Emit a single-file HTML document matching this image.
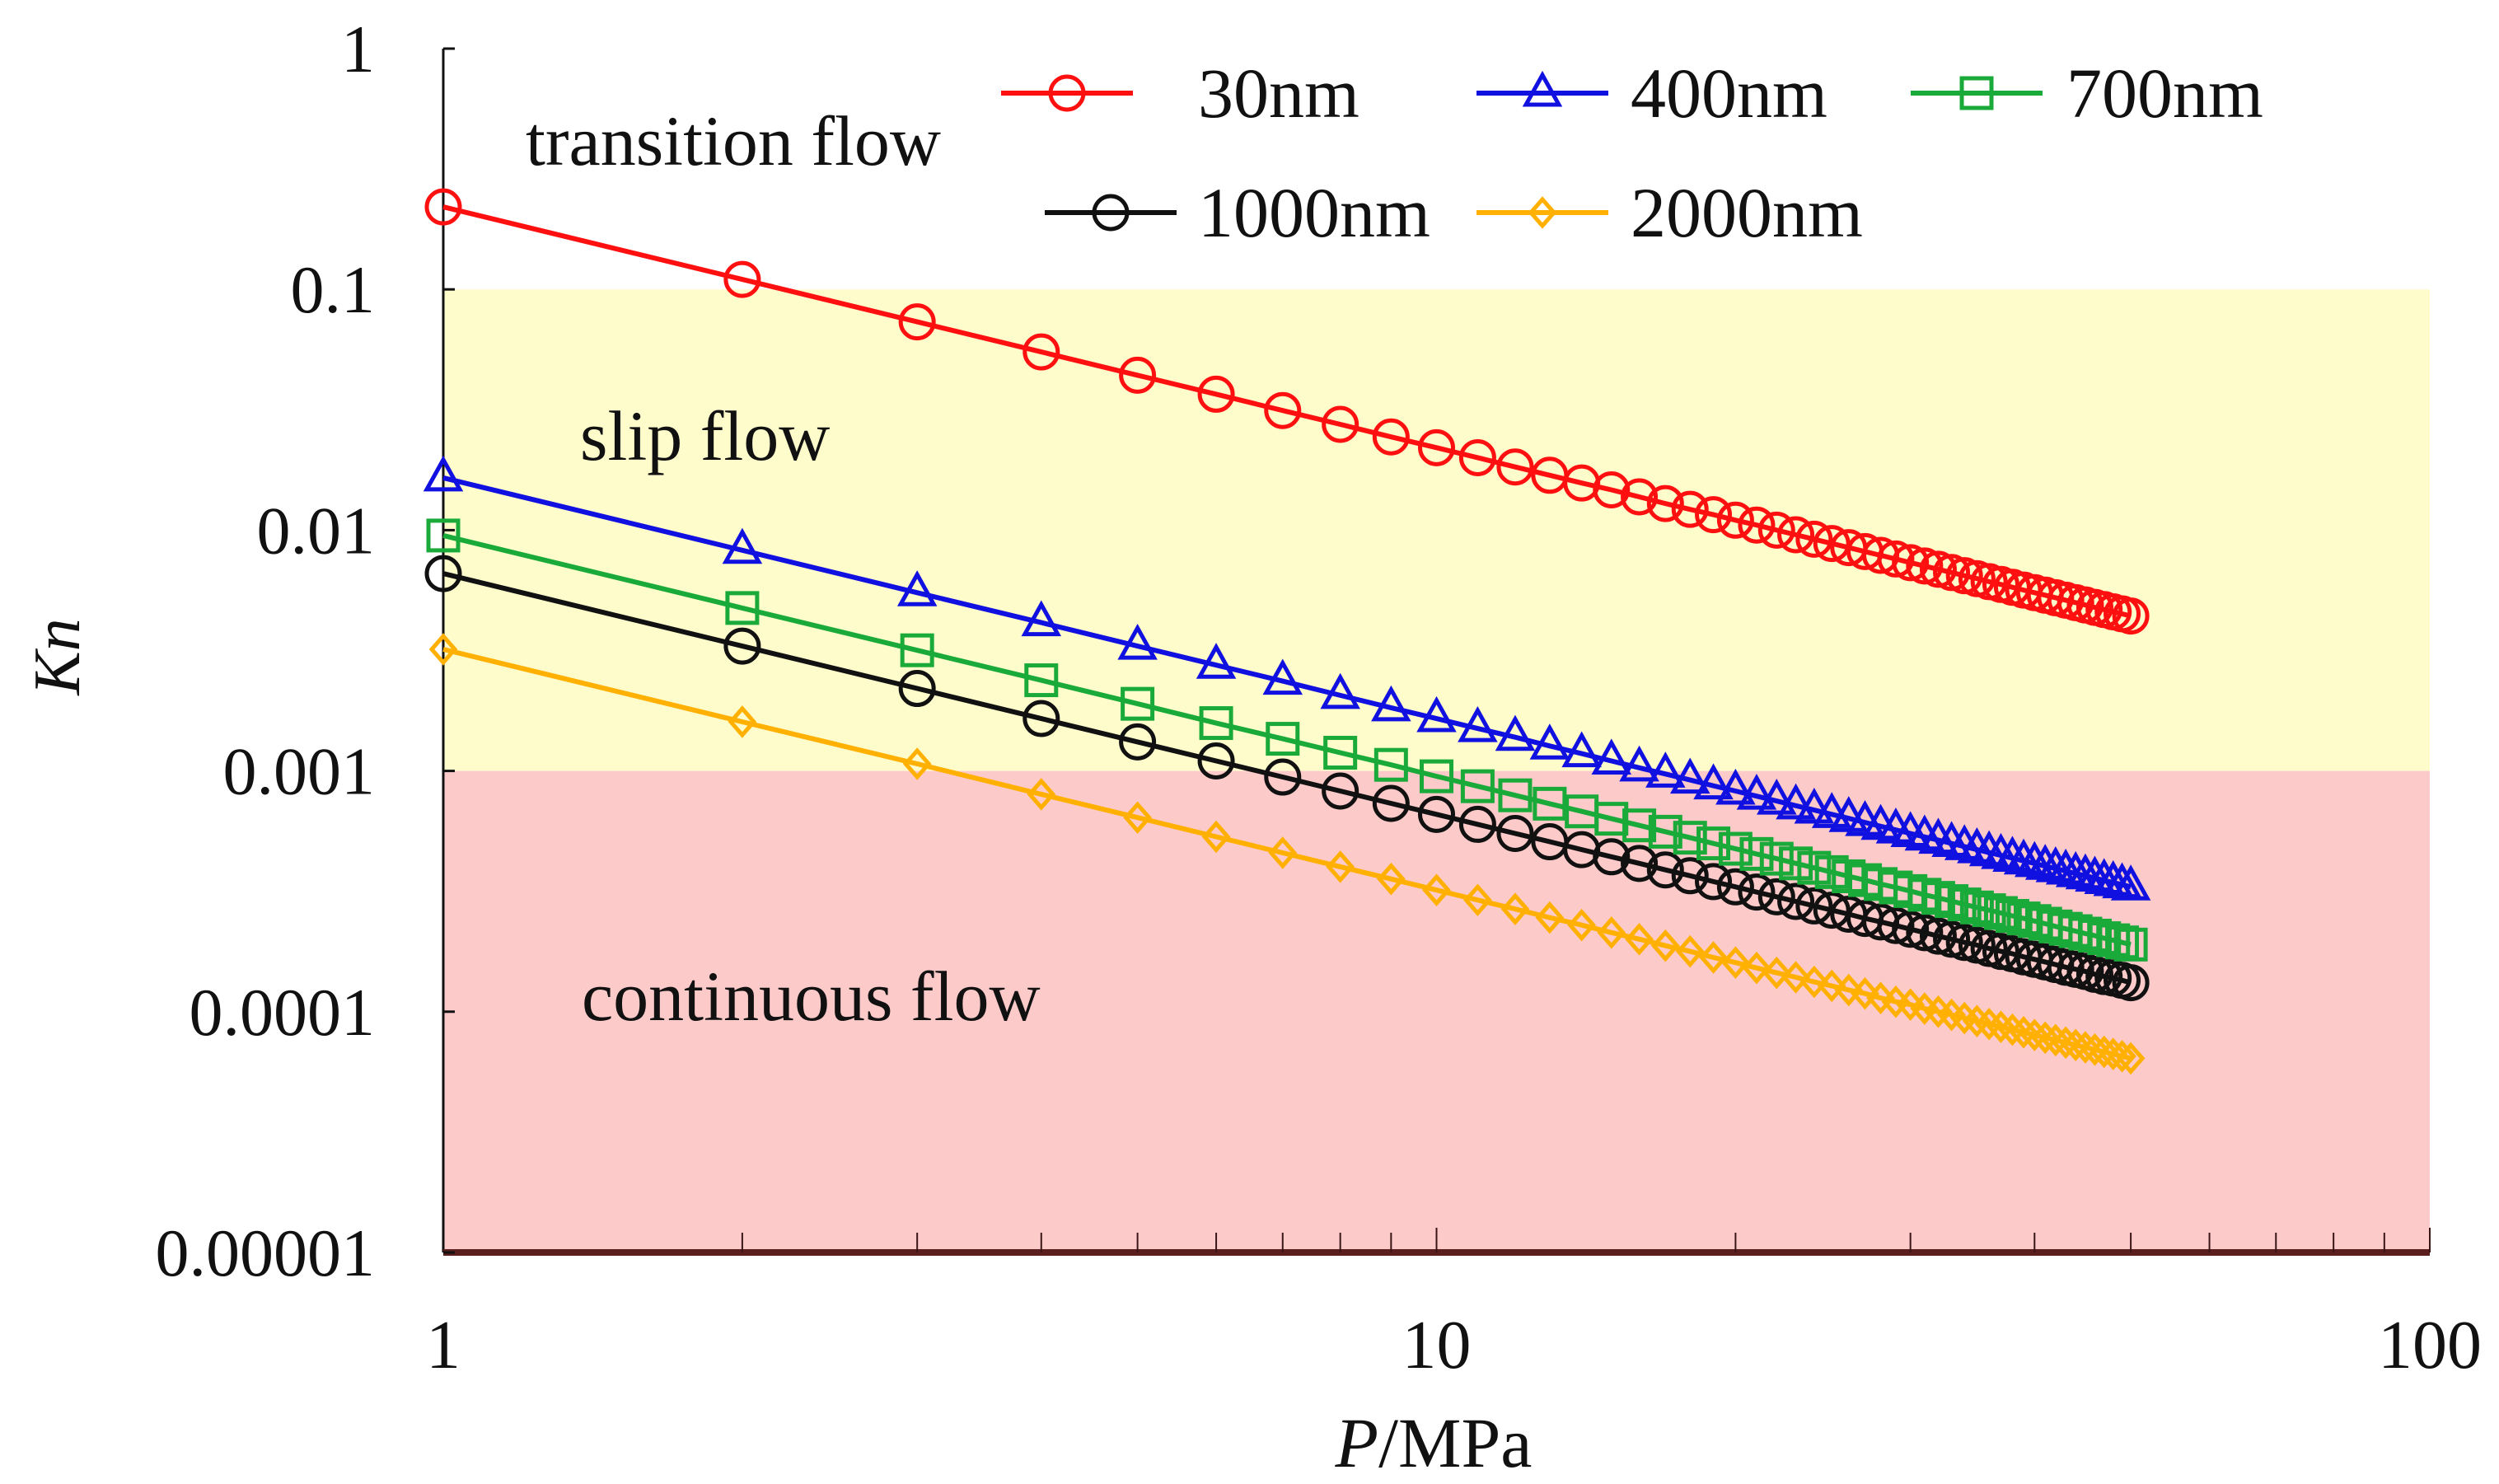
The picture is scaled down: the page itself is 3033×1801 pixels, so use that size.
<!DOCTYPE html>
<html><head><meta charset="utf-8"><style>
html,body{margin:0;padding:0;background:#fff;}
svg{display:block;font-family:"Liberation Serif",serif;}
</style></head><body>
<svg id="chart" width="3033" height="1801" viewBox="0 0 3033 1801" xmlns="http://www.w3.org/2000/svg"></svg>
<script>
const pressures = [1,2,3,4,5,6,7,8,9,10,11,12,13,14,15,16,17,18,19,20,21,22,23,24,25,26,27,28,29,30,31,32,33,34,35,36,37,38,39,40,41,42,43,44,45,46,47,48,49,50];
const kn30 = [0.22,0.11,0.0733,0.055,0.044,0.0367,0.0314,0.0275,0.0244,0.022,0.02,0.0183,0.0169,0.0157,0.0147,0.01375,0.0129,0.0122,0.0116,0.011,0.0105,0.01,0.00957,0.00917,0.0088,0.00846,0.00815,0.00786,0.00759,0.00733,0.0071,0.00688,0.00667,0.00647,0.00629,0.00611,0.00595,0.00579,0.00564,0.0055,0.00537,0.00524,0.00512,0.005,0.00489,0.00478,0.00468,0.00458,0.00449,0.0044];
const kn400 = [0.0165,0.00825,0.0055,0.00413,0.0033,0.00275,0.00236,0.00206,0.00183,0.00165,0.0015,0.00138,0.00127,0.00118,0.0011,0.00103,0.000971,0.000917,0.000868,0.000825,0.000786,0.00075,0.000717,0.000688,0.00066,0.000635,0.000611,0.000589,0.000569,0.00055,0.000532,0.000516,0.0005,0.000485,0.000471,0.000458,0.000446,0.000434,0.000423,0.000413,0.000402,0.000393,0.000384,0.000375,0.000367,0.000359,0.000351,0.000344,0.000337,0.00033];
const kn700 = [0.0095,0.00475,0.00317,0.00238,0.0019,0.00158,0.00136,0.00119,0.00106,0.00095,0.000864,0.000792,0.000731,0.000679,0.000633,0.000594,0.000559,0.000528,0.0005,0.000475,0.000452,0.000432,0.000413,0.000396,0.00038,0.000365,0.000352,0.000339,0.000328,0.000317,0.000306,0.000297,0.000288,0.000279,0.000271,0.000264,0.000257,0.00025,0.000244,0.000238,0.000232,0.000226,0.000221,0.000216,0.000211,0.000207,0.000202,0.000198,0.000194,0.00019];
const kn1000 = [0.0066,0.0033,0.0022,0.00165,0.00132,0.0011,0.000943,0.000825,0.000733,0.00066,0.0006,0.00055,0.000508,0.000471,0.00044,0.000413,0.000388,0.000367,0.000347,0.00033,0.000314,0.0003,0.000287,0.000275,0.000264,0.000254,0.000244,0.000236,0.000228,0.00022,0.000213,0.000206,0.0002,0.000194,0.000189,0.000183,0.000178,0.000174,0.000169,0.000165,0.000161,0.000157,0.000153,0.00015,0.000147,0.000143,0.00014,0.000138,0.000135,0.000132];
const kn2000 = [0.0032,0.0016,0.00107,0.0008,0.00064,0.000533,0.000457,0.0004,0.000356,0.00032,0.000291,0.000267,0.000246,0.000229,0.000213,0.0002,0.000188,0.000178,0.000168,0.00016,0.000152,0.000145,0.000139,0.000133,0.000128,0.000123,0.000119,0.000114,0.00011,0.000107,0.000103,0.0001,0.000097,0.0000941,0.0000914,0.0000889,0.0000865,0.0000842,0.0000821,0.00008,0.000078,0.0000762,0.0000744,0.0000727,0.0000711,0.0000696,0.0000681,0.0000667,0.0000653,0.000064];
const yTicks = [1,0.1,0.01,0.001,0.0001,0.00001];
const yTickLabels = ["1","0.1","0.01","0.001","0.0001","0.00001"];
const xTicks = [1,10,100];
const xTickLabels = ["1","10","100"];

const NS="http://www.w3.org/2000/svg";
const svg=document.getElementById('chart');
const X0=538,X1=2949,Y0=59,Y1=1520;
const xs=v=>X0+(Math.log10(v)-0)/2*(X1-X0);
const ys=v=>Y0+(0-Math.log10(v))/5*(Y1-Y0);
function mk(tag,attrs,parent){const e=document.createElementNS(NS,tag);for(const k in attrs)e.setAttribute(k,attrs[k]);(parent||svg).appendChild(e);return e;}

let r=mk('rect',{x:X0,y:ys(0.1),width:X1-X0,height:ys(0.001)-ys(0.1),fill:'#fffccc'});


r=mk('rect',{x:X0,y:ys(0.001),width:X1-X0,height:ys(0.00001)-ys(0.001),fill:'#fdcaca'});



let a=mk('line',{x1:X0,y1:Y0,x2:X0,y2:Y1,stroke:'#111','stroke-width':3});


a=mk('line',{x1:X0,y1:Y1,x2:X1,y2:Y1,stroke:'#5a1e1e','stroke-width':8});


yTicks.forEach((v,i)=>{
  const y=ys(v);
  mk('line',{x1:X0,y1:y,x2:X0+14,y2:y,stroke:'#111','stroke-width':3});
  const t=mk('text',{x:455,y:y+28,'text-anchor':'end','font-size':82,fill:'#111'});
  t.textContent=yTickLabels[i];
  
  
});
for(let d=1;d<=10;d*=10){for(let m=2;m<=10;m++){const x=xs(d*m);mk('line',{x1:x,y1:Y1,x2:x,y2:Y1-(m===10?30:24),stroke:'#3a1515','stroke-width':2});}}
xTicks.forEach((v,i)=>{
  const t=mk('text',{x:xs(v),y:1660,'text-anchor':'middle','font-size':84,fill:'#111'});
  t.textContent=xTickLabels[i];
  
  
});
let t=mk('text',{x:1740,y:1780,'text-anchor':'middle','font-size':86,fill:'#111'});
t.innerHTML='<tspan font-style="italic">P</tspan>/MPa';


t=mk('text',{x:0,y:0,'text-anchor':'middle','font-size':80,'font-style':'italic',fill:'#111',transform:'translate(96,797) rotate(-90)'});
t.textContent='Kn';



[['transition flow',638,200,'transition-flow-label'],['slip  flow',704,558,'slip-flow-label'],['continuous flow',706,1238,'continuous-flow-label']].forEach(d=>{
  const e=mk('text',{x:d[1],y:d[2],'font-size':86,fill:'#111','xml:space':'preserve'});
  e.textContent=d[0];
  
  
});

function marker(shape,x,y,color,g){
  const s={fill:'none',stroke:color,'stroke-width':5};
  if(shape==='circle')return mk('circle',Object.assign({cx:x,cy:y,r:20},s),g);
  if(shape==='tri')return mk('polygon',Object.assign({points:`${x},${y-22} ${x-20},${y+14} ${x+20},${y+14}`},s),g);
  if(shape==='square')return mk('rect',Object.assign({x:x-18,y:y-18,width:36,height:36},s),g);
  if(shape==='diamond')return mk('polygon',Object.assign({points:`${x},${y-16} ${x+14},${y} ${x},${y+16} ${x-14},${y}`},s),g);
}
const series=[
  {vals:kn2000,color:'#ffb000',shape:'diamond',name:'2000nm'},
  {vals:kn1000,color:'#111111',shape:'circle',name:'1000nm'},
  {vals:kn700,color:'#1aaa3a',shape:'square',name:'700nm'},
  {vals:kn400,color:'#1010e0',shape:'tri',name:'400nm'},
  {vals:kn30,color:'#ff1010',shape:'circle',name:'30nm'}
];
series.forEach(s=>{
  const g=mk('g',{});
  
  
  const pts=pressures.map((p,i)=>xs(p).toFixed(1)+','+ys(s.vals[i]).toFixed(1)).join(' ');
  const l=mk('polyline',{points:pts,fill:'none',stroke:s.color,'stroke-width':6},g);
  
  
  pressures.forEach((p,i)=>{
    const m=marker(s.shape,xs(p),ys(s.vals[i]),s.color,g);
    
    
  });
});

const legend=[
  ['30nm','#ff1010','circle',1215,113,1454],['400nm','#1010e0','tri',1792,113,1979],['700nm','#1aaa3a','square',2319,113,2508],
  ['1000nm','#111111','circle',1268,258,1454],['2000nm','#ffb000','diamond',1792,258,1979]
];
legend.forEach(d=>{
  const g=mk('g',{});
  
  
  const x=d[3],y=d[4],w=160;
  mk('line',{x1:x,y1:y,x2:x+w,y2:y,stroke:d[1],'stroke-width':6},g);
  marker(d[2],x+w/2,y,d[1],g);
  const tx=mk('text',{x:d[5],y:y+29,'font-size':86,fill:'#111'},g);
  tx.textContent=d[0];
});
</script>
</body></html>
